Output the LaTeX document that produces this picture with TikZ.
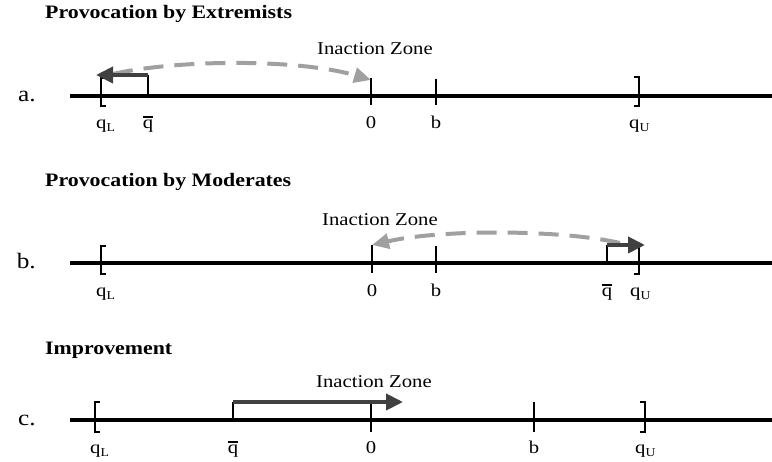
\documentclass[tikz,border=0pt]{standalone}
\usepackage{fontspec}
\setmainfont[FakeStretch=1.15]{Liberation Serif}
\usetikzlibrary{arrows.meta}
\definecolor{darkarrow}{HTML}{404040}
\definecolor{lightarrow}{HTML}{A0A0A0}
\newcommand{\qbar}{\setbox0\hbox{q}\vbox{\hrule height 1.4pt width\wd0 \kern 2.6pt \box0}}
\newcommand{\qsub}[1]{q\raisebox{-3pt}{\fontsize{12}{12}\selectfont #1}}
\begin{document}
\begin{tikzpicture}[x=1pt,y=-1pt,
  axis/.style={line width=3.6pt},
  tickline/.style={line width=1.4pt},
  brk/.style={line width=2.3pt},
  darkarr/.style={line width=4pt, draw=darkarrow, -{Triangle[length=17pt,width=16pt,fill=darkarrow]}},
  lightarr/.style={line width=4pt, draw=lightarrow, dash pattern=on 20pt off 11pt, -{Triangle[length=17pt,width=15pt,fill=lightarrow]}},
  lbl/.style={font=\fontsize{18}{18}\selectfont, inner sep=0pt, anchor=base},
  qlbl/.style={font=\fontsize{18}{18}\selectfont, inner sep=0pt, anchor=base west},
  zone/.style={font=\fontsize{18}{18}\selectfont, inner sep=0pt},
  ttl/.style={font=\fontsize{19}{19}\selectfont\bfseries, inner sep=0pt, anchor=west},
  letter/.style={font=\fontsize{22}{22}\selectfont, inner sep=0pt, anchor=base east}
]
\useasboundingbox (0,0) rectangle (772,462);

% ---------------- Panel a ----------------
\node[ttl] (ta) at (45,14) {Provocation by Extremists};
\node[letter] (la) at (36,102) {a.};
\coordinate (aL) at (70,96); \coordinate (aR) at (772,96);
\draw[axis] (aL) -- (aR);
\draw[brk] (106,78) -- (101,78) -- (101,106) -- (106,106);
\draw[brk] (634,77) -- (639,77) -- (639,106) -- (634,106);
\coordinate (aqt) at (148,75); \coordinate (aqb) at (148,96);
\draw[tickline] (aqt) -- (aqb);
\coordinate (a0t) at (371,78); \coordinate (a0b) at (371,105);
\draw[tickline] (a0t) -- (a0b);
\coordinate (abt) at (436,79); \coordinate (abb) at (436,105);
\draw[tickline] (abt) -- (abb);
\coordinate (aarcs) at (113,74); \coordinate (aarce) at (371,80);
\draw[lightarr] (aarcs) .. controls (180,59) and (300,59) .. (aarce);
\coordinate (aqtip) at (96,75);
\draw[darkarr] (aqt) -- (aqtip);
\node[zone] (za) at (375,49) {Inaction Zone};
\node[qlbl] (aql) at (96,129) {\qsub{L}};
\node[lbl] (aqbl) at (148,129) {\qbar};
\node[lbl] (a0l) at (371,129) {0};
\node[lbl] (abl) at (436,129) {b};
\node[qlbl] (aqu) at (629,129) {\qsub{U}};

% ---------------- Panel b ----------------
\node[ttl] (tb) at (45,182) {Provocation by Moderates};
\node[letter] (lb) at (36,269) {b.};
\coordinate (bL) at (70,263); \coordinate (bR) at (772,263);
\draw[axis] (bL) -- (bR);
\draw[brk] (106,246) -- (101,246) -- (101,274) -- (106,274);
\draw[brk] (634,246) -- (639,246) -- (639,274) -- (634,274);
\coordinate (b0t) at (372,245); \coordinate (b0b) at (372,273);
\draw[tickline] (b0t) -- (b0b);
\coordinate (bbt) at (436,246); \coordinate (bbb) at (436,273);
\draw[tickline] (bbt) -- (bbb);
\coordinate (bqt) at (607,245); \coordinate (bqb) at (607,263);
\draw[tickline] (bqt) -- (bqb);
\coordinate (barcs) at (620,243);
\draw[lightarr] (barcs) .. controls (560,229.3) and (440,229.3) .. (b0t);
\coordinate (bqtip) at (645,245);
\draw[darkarr] (bqt) -- (bqtip);
\node[zone] (zb) at (380,220) {Inaction Zone};
\node[qlbl] (bql) at (96,297) {\qsub{L}};
\node[lbl] (b0l) at (372,297) {0};
\node[lbl] (bbl) at (436,297) {b};
\node[lbl] (bqbl) at (607,297) {\qbar};
\node[qlbl] (bqu) at (630,297) {\qsub{U}};

% ---------------- Panel c ----------------
\node[ttl] (tc) at (45,350) {Improvement};
\node[letter] (lc) at (36,426) {c.};
\coordinate (cL) at (70,420); \coordinate (cR) at (772,420);
\draw[axis] (cL) -- (cR);
\draw[brk] (100,402) -- (95,402) -- (95,432) -- (100,432);
\draw[brk] (640,402) -- (645,402) -- (645,432) -- (640,432);
\coordinate (cqt) at (233,402); \coordinate (cqb) at (233,420);
\draw[tickline] (cqt) -- (cqb);
\coordinate (c0t) at (371,403); \coordinate (c0b) at (371,432);
\draw[tickline] (c0t) -- (c0b);
\coordinate (cbt) at (534,402); \coordinate (cbb) at (534,432);
\draw[tickline] (cbt) -- (cbb);
\coordinate (cqtip) at (403,402);
\draw[darkarr] (cqt) -- (cqtip);
\node[zone] (zc) at (374,382) {Inaction Zone};
\node[qlbl] (cql) at (90,454) {\qsub{L}};
\node[lbl] (cqbl) at (233,454) {\qbar};
\node[lbl] (c0l) at (371,454) {0};
\node[lbl] (cbl) at (534,454) {b};
\node[qlbl] (cqu) at (635,454) {\qsub{U}};
\end{tikzpicture}
\end{document}
